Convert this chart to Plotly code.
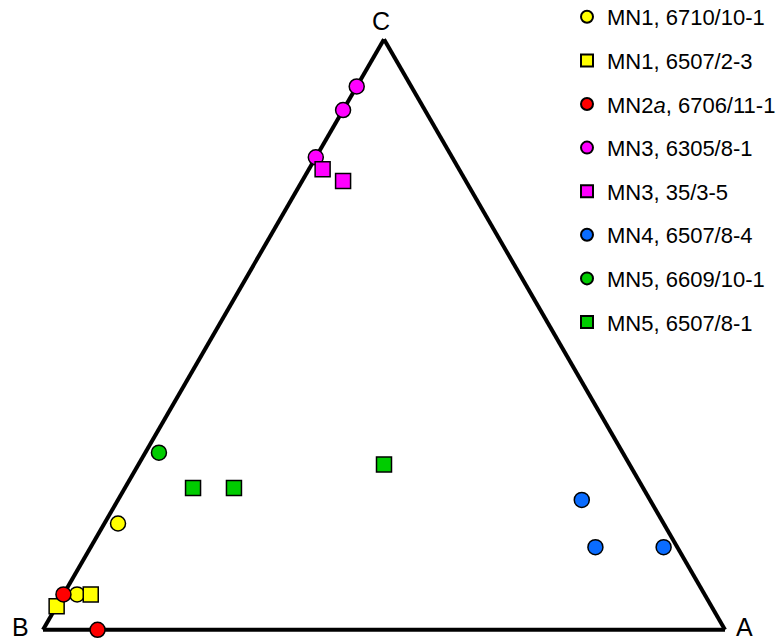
import plotly.graph_objects as go

# Sample compositions as fractions of end-members A, B, C (each row sums to 1)
series_names = [
    "MN1, 6710/10-1",
    "MN1, 6507/2-3",
    "MN2<i>a</i>, 6706/11-1",
    "MN3, 6305/8-1",
    "MN3, 35/3-5",
    "MN4, 6507/8-4",
    "MN5, 6609/10-1",
    "MN5, 6507/8-1",
]
series_symbols = ["circle", "square", "circle", "circle", "square", "circle", "circle", "square"]
series_colors = ["#FFFF00", "#FFFF00", "#FF0000", "#FF00FF", "#FF00FF", "#0A6CFF", "#00CC00", "#00CC00"]

frac_A = [
    [0.02, 0.02],
    [0.00, 0.04],
    [0.00, 0.08],
    [0.00, 0.00, 0.00],
    [0.02, 0.06],
    [0.68, 0.74, 0.84],
    [0.02],
    [0.10, 0.16, 0.36],
]
frac_B = [
    [0.80, 0.92],
    [0.96, 0.90],
    [0.94, 0.92],
    [0.08, 0.12, 0.20],
    [0.20, 0.18],
    [0.10, 0.12, 0.02],
    [0.68],
    [0.66, 0.60, 0.36],
]
frac_C = [
    [0.18, 0.06],
    [0.04, 0.06],
    [0.06, 0.00],
    [0.92, 0.88, 0.80],
    [0.78, 0.76],
    [0.22, 0.14, 0.14],
    [0.30],
    [0.24, 0.24, 0.28],
]

FONT = "Liberation Sans, Arial, sans-serif"

fig = go.Figure()
for i, name in enumerate(series_names):
    fig.add_trace(go.Scatterternary(
        # plotly's a-axis is the top corner (C), b bottom-left (B), c bottom-right (A)
        a=frac_C[i], b=frac_B[i], c=frac_A[i],
        mode="markers",
        name=name,
        legendgroup=f"g{i}",
        cliponaxis=False,
        marker=dict(symbol=series_symbols[i], size=15, color=series_colors[i],
                    line=dict(color="black", width=1.5)),
    ))

axis_style = dict(
    showgrid=False, showticklabels=False, ticks="", title=dict(text=""),
    linewidth=4, linecolor="black", layer="below traces", min=0,
)

fig.update_layout(
    width=784, height=643,
    margin=dict(l=43, r=59, t=39, b=13, autoexpand=False),
    paper_bgcolor="white",
    font=dict(family=FONT, size=22, color="black"),
    ternary=dict(
        sum=1,
        domain=dict(x=[0, 1], y=[0, 1]),
        bgcolor="white",
        aaxis=axis_style, baxis=axis_style, caxis=axis_style,
    ),
    legend=dict(
        x=(567 - 43) / 682, xanchor="left",
        y=(630 + 4) / 591, yanchor="top",
        traceorder="grouped", tracegroupgap=12,
        font=dict(family=FONT, size=22),
        bgcolor="rgba(0,0,0,0)",
        itemsizing="constant",
        maxheight=640,
    ),
    annotations=[
        dict(text="C", x=(381 - 43) / 682, y=(630 - 20.5) / 591, xref="paper", yref="paper",
             showarrow=False, font=dict(size=25, family=FONT), xanchor="center", yanchor="middle"),
        dict(text="B", x=(20 - 43) / 682, y=(630 - 627) / 591, xref="paper", yref="paper",
             showarrow=False, font=dict(size=25, family=FONT), xanchor="center", yanchor="middle"),
        dict(text="A", x=(744 - 43) / 682, y=(630 - 627) / 591, xref="paper", yref="paper",
             showarrow=False, font=dict(size=25, family=FONT), xanchor="center", yanchor="middle"),
    ],
)

fig.write_html("out.html")
